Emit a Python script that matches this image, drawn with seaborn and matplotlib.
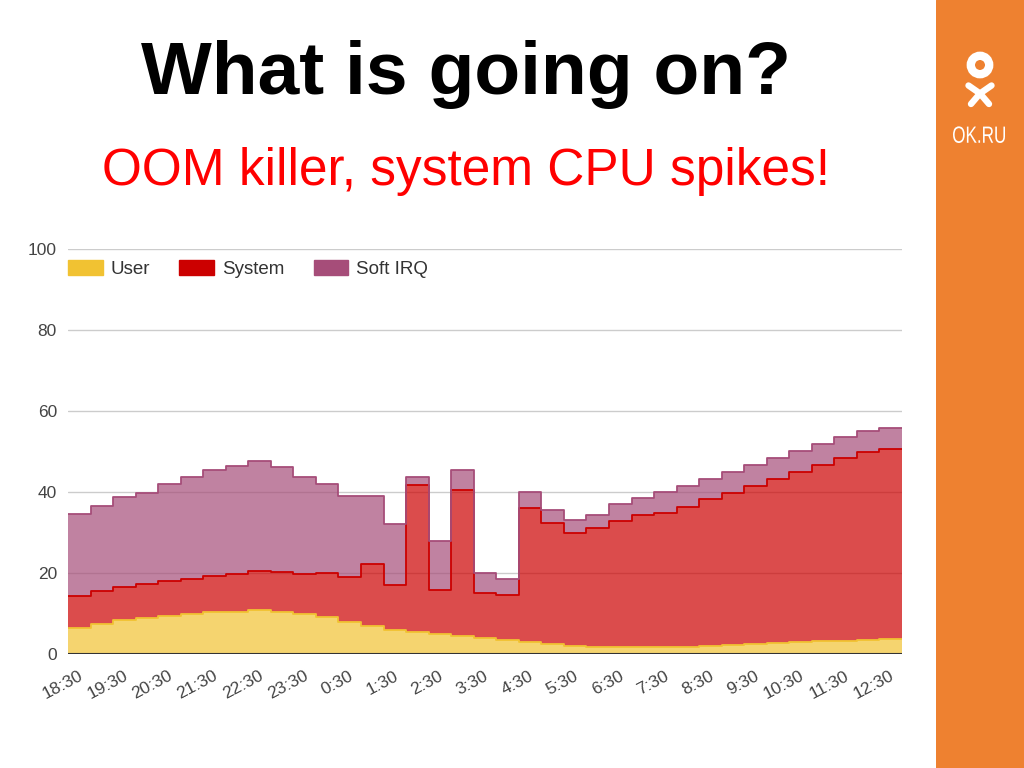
import matplotlib
matplotlib.use('Agg')
import matplotlib.pyplot as plt
import numpy as np
import seaborn as sns
from matplotlib.patches import Patch, Circle, Rectangle, PathPatch
from matplotlib.textpath import TextPath
from matplotlib.font_manager import FontProperties
from matplotlib.transforms import Affine2D

# Data: CPU usage by half-hour slot (18:30 .. 12:30), stacked
tick_labels = ['18:30', '19:30', '20:30', '21:30', '22:30', '23:30', '0:30', '1:30', '2:30',
               '3:30', '4:30', '5:30', '6:30', '7:30', '8:30', '9:30', '10:30', '11:30', '12:30']
user = [6.3, 7.3, 8.4, 9.0, 9.4, 9.9, 10.3, 10.3, 10.9, 10.4, 9.9, 9.1, 8.0, 6.9, 5.9, 5.5, 4.9,
        4.4, 3.9, 3.5, 2.9, 2.5, 2.0, 1.8, 1.8, 1.8, 1.8, 1.8, 2.0, 2.2, 2.5, 2.7, 2.9, 3.1, 3.3,
        3.5, 3.7]
system = [8.1, 8.3, 8.2, 8.3, 8.6, 8.7, 9.0, 9.5, 9.7, 9.8, 9.9, 10.9, 11.0, 15.2, 11.1, 36.2,
          11.0, 36.1, 11.1, 11.1, 33.1, 29.9, 28.0, 29.4, 31.1, 32.5, 32.9, 34.6, 36.2, 37.6, 39.1,
          40.6, 42.0, 43.5, 45.1, 46.5, 46.9]
softirq = [20.1, 20.9, 22.2, 22.5, 24.0, 25.1, 26.2, 26.5, 27.0, 25.9, 23.9, 22.0, 20.0, 16.9,
           15.0, 2.0, 12.1, 5.0, 5.1, 3.9, 4.0, 3.2, 3.1, 3.1, 4.1, 4.3, 5.3, 5.2, 5.1, 5.2, 5.1,
           5.0, 5.2, 5.2, 5.1, 5.1, 5.1]
series_names = ['User', 'System', 'Soft IRQ']
series_colors = ['#f1c232', '#cc0000', '#a64d79']

sns.set_theme(style='white')
plt.rcParams['font.family'] = ['Liberation Sans', 'DejaVu Sans']

fig = plt.figure(figsize=(10.24, 7.68), dpi=100)
ax = fig.add_axes([68 / 1024, 114 / 768, 834 / 1024, 405 / 768])

n = len(user)
x = np.arange(n + 1)
lower = np.zeros(n + 1)
for vals, color, name in zip([user, system, softirq], series_colors, series_names):
    v = np.append(vals, vals[-1])
    upper = lower + v
    ax.fill_between(x, lower, upper, step='post', color=color, alpha=0.7, linewidth=0, zorder=2)
    sns.lineplot(x=x, y=upper, drawstyle='steps-post', color=color, linewidth=1.3,
                 ax=ax, zorder=3)
    lower = upper

ax.set_xlim(0, n)
ax.set_ylim(0, 100)
ax.set_yticks([0, 20, 40, 60, 80, 100])
ax.grid(axis='y', color='#cccccc', linewidth=1)
ax.set_axisbelow(True)
ax.axhline(0, color='#333333', linewidth=1.5, zorder=4)
for s in ax.spines.values():
    s.set_visible(False)

ax.set_xticks(np.arange(0, n, 2) + 0.6)
ax.set_xticklabels(tick_labels, rotation=28, ha='right', va='center', rotation_mode='anchor')
ax.tick_params(axis='x', length=0, pad=15, labelsize=12.5, labelcolor='#444444')
ax.tick_params(axis='y', length=0, pad=8, labelsize=12.5, labelcolor='#444444')
ax.set_xlabel('')
ax.set_ylabel('')

handles = [Patch(facecolor=c, edgecolor=c, label=nm) for c, nm in zip(series_colors, series_names)]
ax.legend(handles=handles, loc='upper left', bbox_to_anchor=(0, 0.973), ncol=3,
          frameon=False, fontsize=13.5, handlelength=1.85, handleheight=0.9,
          handletextpad=0.43, columnspacing=1.55, borderpad=0, borderaxespad=0,
          labelcolor='#333333')

# Slide title
fig.text(466 / 1024, 1 - 94 / 768, 'What is going on?', ha='center', va='baseline',
         fontsize=54, fontweight='bold', color='black')
fig.text(466 / 1024, 1 - 185 / 768, 'OOM killer, system CPU spikes!', ha='center',
         va='baseline', fontsize=37, color='#ff0000')

# Orange side bar with logo (coordinates in pixels inside the bar)
side = fig.add_axes([936 / 1024, 0, 88 / 1024, 1])
side.set_xlim(0, 88)
side.set_ylim(768, 0)
side.axis('off')
side.add_patch(Rectangle((0, 0), 88, 768, color='#ee8130', zorder=0))
side.add_patch(Circle((44, 65), 9.2, fill=False, edgecolor='white', linewidth=6.0))
lw = 4.6
side.plot([32.5, 44], [85.5, 93.5], color='white', linewidth=lw, solid_capstyle='round')
side.plot([55.5, 44], [85.5, 93.5], color='white', linewidth=lw, solid_capstyle='round')
side.plot([44, 35], [93.5, 104], color='white', linewidth=lw, solid_capstyle='round')
side.plot([44, 53], [93.5, 104], color='white', linewidth=lw, solid_capstyle='round')

tp = TextPath((0, 0), 'OK.RU', size=23.5, prop=FontProperties(family='Liberation Sans'))
bb = tp.get_extents()
sx = 52 / bb.width
tr = Affine2D().translate(-bb.x0 - bb.width / 2, -bb.y0).scale(sx, -1).translate(43, 143)
side.add_patch(PathPatch(tr.transform_path(tp), facecolor='white', edgecolor='none'))

fig.savefig('out.png', dpi=100)
